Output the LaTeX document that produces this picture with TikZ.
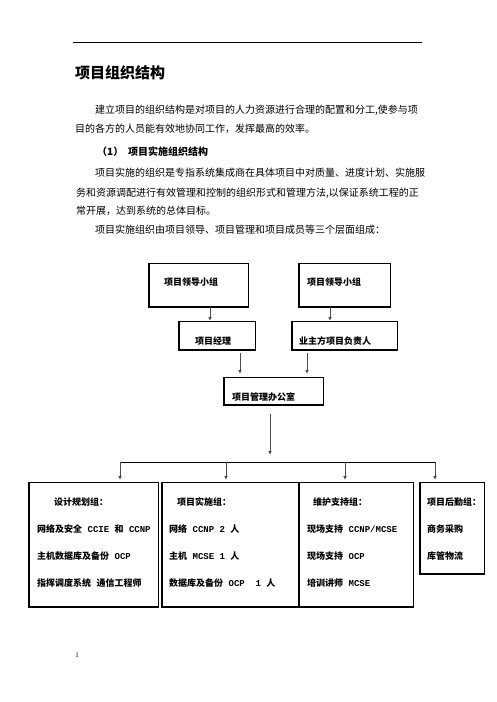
\documentclass[tikz,border=0pt]{standalone}
\usepackage{fontspec}
\setmainfont{Noto Sans CJK SC}
\setmonofont{Liberation Mono}
\newfontfamily\pagefont{Liberation Serif}
\usetikzlibrary{arrows.meta}

\tikzset{
  txt/.style={anchor=west, inner sep=0pt, font=\fontsize{10}{12}\selectfont},
  boxtxt/.style={anchor=west, inner sep=0pt, font=\fontsize{9}{11}\selectfont\bfseries},
  box/.style={draw, line width=.8pt, inner sep=0pt, anchor=north west},
  arr/.style={draw=black!70, line width=1pt, -{Latex[length=4pt,width=3.5pt]}},
}

\begin{document}
\begin{tikzpicture}[x=1pt,y=-1pt]
\fill[white] (0,0) rectangle (496,702);
\useasboundingbox (0,0) rectangle (496,702);

% page head and text
\draw[line width=.7pt] (73,42) -- (422,42);
\node[txt, font=\fontsize{15}{18}\selectfont\bfseries] (title) at (75,73) {项目组织结构};
\node[txt] (p1a) at (95,110) {建立项目的组织结构是对项目的人力资源进行合理的配置和分工,使参与项};
\node[txt] (p1b) at (75,129) {目的各方的人员能有效地协同工作，发挥最高的效率。};
\node[txt, font=\fontsize{10}{12}\selectfont\bfseries] (secnum) at (97,152) {（1）};
\node[txt, font=\fontsize{10}{12}\selectfont\bfseries] (sectitle) at (128,152) {项目实施组织结构};
\node[txt] (p2a) at (95,173) {项目实施的组织是专指系统集成商在具体项目中对质量、进度计划、实施服};
\node[txt] (p2b) at (76,193) {务和资源调配进行有效管理和控制的组织形式和管理方法,以保证系统工程的正};
\node[txt] (p2c) at (76,211) {常开展，达到系统的总体目标。};
\node[txt] (p3) at (95,230) {项目实施组织由项目领导、项目管理和项目成员等三个层面组成：};

% boxes
\node[box, minimum width=99, minimum height=43] (lead1) at (149,263) {};
\node[box, minimum width=91, minimum height=43] (lead2) at (299,263) {};
\node[box, minimum width=76, minimum height=28] (pm) at (179,321) {};
\node[box, minimum width=105, minimum height=28] (owner) at (292,321) {};
\node[box, minimum width=99, minimum height=27] (pmo) at (224,377) {};
\node[box, minimum width=129, minimum height=124] (design) at (29,482) {};
\node[box, minimum width=136, minimum height=124] (impl) at (162,482) {};
\node[box, minimum width=114, minimum height=124] (maint) at (299,482) {};
\node[box, minimum width=64, minimum height=91] (logis) at (420,482) {};
\foreach \n in {lead1,lead2,pm,owner,pmo,design,impl,maint,logis}
  \draw[line width=1.6pt] (\n.north west) |- (\n.south east);

\node[boxtxt] (lead1txt) at (164,282) {项目领导小组};
\node[boxtxt] (lead2txt) at (307,282) {项目领导小组};
\node[boxtxt] (pmtxt) at (195,341) {项目经理};
\node[boxtxt] (ownertxt) at (299,341) {业主方项目负责人};
\node[boxtxt] (pmotxt) at (232,397) {项目管理办公室};

\foreach \x/\t [count=\i] in {54/设计规划组：, 37/网络及安全\texttt{ CCIE }和\texttt{ CCNP}, 37/主机数据库及备份\texttt{ OCP}, 37/指挥调度系统\texttt{ }通信工程师}
  \node[boxtxt] (design\i) at (\x,{475+27*\i}) {\t};
\foreach \x/\t [count=\i] in {177/项目实施组：, 169/网络\texttt{ CCNP 2 }人, 169/主机\texttt{ MCSE 1 }人, 169/数据库及备份\texttt{ OCP\ \ 1 }人}
  \node[boxtxt] (impl\i) at (\x,{475+27*\i}) {\t};
\foreach \x/\t [count=\i] in {313/维护支持组：, 307/现场支持\texttt{ CCNP/MCSE}, 307/现场支持\texttt{ OCP}, 307/培训讲师\texttt{ MCSE}}
  \node[boxtxt] (maint\i) at (\x,{475+27*\i}) {\t};
\foreach \t [count=\i] in {项目后勤组：, 商务采购, 库管物流}
  \node[boxtxt] (logis\i) at (427,{475+27*\i}) {\t};

% connectors
\draw[arr] ([xshift=61]lead1.south west) -- ([xshift=31]pm.north west);
\draw[arr] ([xshift=31]lead2.south west) -- ([xshift=38]owner.north west);
\draw[arr] ([xshift=61,yshift=-3]pm.south west) -- ([xshift=16,yshift=3]pmo.north west);
\draw[arr] ([xshift=15,yshift=-3]owner.south west) -- ([xshift=83,yshift=3]pmo.north west);
\coordinate (hub) at (270,462);
\draw[arr] ([xshift=46,yshift=-9]pmo.south west) -- ([yshift=7]hub);
\draw[line width=.8pt] ([xshift=91,yshift=20]design.north west) -- ([xshift=15,yshift=20]logis.north west);
\foreach \n/\d in {design/91, impl/64, maint/46, logis/15}
  \draw[arr] ([xshift=\d,yshift=20]\n.north west) -- ([xshift=\d,yshift=2]\n.north west);

\node[inner sep=0pt, font=\pagefont\fontsize{7}{8}\selectfont] (pagenum) at (77,655) {1};
\end{tikzpicture}
\end{document}
